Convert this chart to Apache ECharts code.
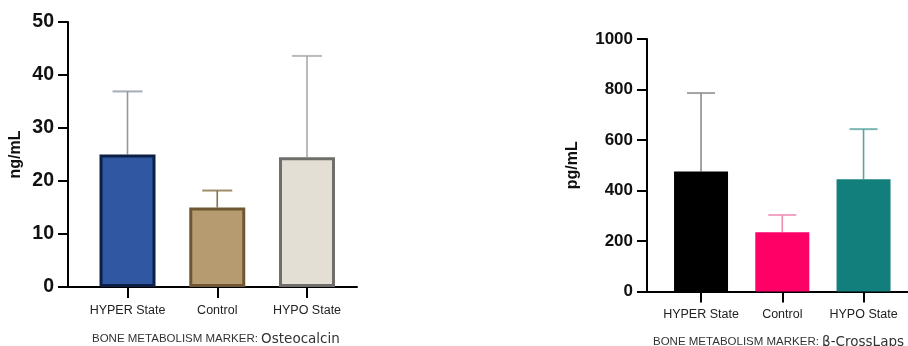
<!DOCTYPE html>
<html>
<head>
<meta charset="utf-8">
<script src="https://cdn.jsdelivr.net/npm/echarts@6/dist/echarts.min.js"></script>
<style>html,body{margin:0;padding:0;background:#fff;}#c{width:908px;height:346px;}</style>
</head>
<body>
<div id="c"></div>
<script>
const categories = ['HYPER State', 'Control', 'HYPO State'];
const osteoMean = [25.0, 15.0, 24.5];
const osteoUpper = [36.9, 18.2, 43.6];
const crossMean = [475, 235, 445];
const crossUpper = [786, 303, 643];
const osteoTitle = 'BONE METABOLISM MARKER: ';
const osteoName = 'Osteocalcin';
const crossName = 'β-CrossLaps';

const osteoFill = ['#2F57A2', '#B59B6F', '#E3DFD5'];
const osteoBorder = ['#0D1F45', '#6E5833', '#6F6E6A'];
const osteoErr = ['#8E98A5', '#8A7048', '#A9A9A9'];
const crossFill = ['#000000', '#FF0066', '#137F7D'];
const crossErr = ['#8C8C8C', '#F08DB5', '#5AA3A2'];

const chart = echarts.init(document.getElementById('c'), null, {renderer: 'canvas'});

function xAxis(gridIndex, min, max) {
  return {
    type: 'value', gridIndex, min, max,
    axisLine: {show: true, onZero: false, lineStyle: {color: '#000', width: 2}},
    axisTick: {show: true, length: 11, lineStyle: {color: '#000', width: 2}, customValues: [0, 1, 2]},
    axisLabel: {
      customValues: [0, 1, 2], margin: 17,
      formatter: v => categories[Math.round(v)],
      fontFamily: 'Liberation Sans, Arial, sans-serif', fontSize: 12.5, color: '#222'
    },
    splitLine: {show: false}
  };
}
function yAxis(gridIndex, max, interval, name, nameGap, fs) {
  return {
    type: 'value', gridIndex, min: 0, max, interval,
    name, nameLocation: 'middle', nameGap,
    nameTextStyle: {fontFamily: 'Liberation Sans, Arial, sans-serif', fontWeight: 'bold', fontSize: 16, color: '#111'},
    axisLine: {show: true, onZero: false, lineStyle: {color: '#000', width: 2}},
    axisTick: {show: true, length: 10, lineStyle: {color: '#000', width: 2}},
    axisLabel: {margin: 14, formatter: v => String(v), fontFamily: 'Liberation Sans, Arial, sans-serif', fontWeight: 'bold', fontSize: fs, color: '#111'},
    splitLine: {show: false}
  };
}
function errSeries(idx, mean, upper, colors, capW) {
  return {
    type: 'custom', xAxisIndex: idx, yAxisIndex: idx, z: 1,
    data: mean.map((m, i) => [i, m, upper[i]]),
    encode: {x: 0, y: [1, 2]},
    renderItem(params, api) {
      const x = api.value(0);
      const p0 = api.coord([x, api.value(1)]);
      const p1 = api.coord([x, api.value(2)]);
      const c = colors[params.dataIndex];
      return {type: 'group', children: [
        {type: 'line', shape: {x1: p0[0], y1: p0[1], x2: p1[0], y2: p1[1]}, style: {stroke: c, lineWidth: 1.6}},
        {type: 'line', shape: {x1: p1[0] - capW / 2, y1: p1[1], x2: p1[0] + capW / 2, y2: p1[1]}, style: {stroke: c, lineWidth: 2, opacity: 0.8}}
      ]};
    }
  };
}
const titleRich = {
  a: {fontFamily: 'Liberation Sans, Arial, sans-serif', fontSize: 11.5, fontWeight: 'normal', color: '#333', lineHeight: 14},
  b: {fontFamily: 'DejaVu Sans, sans-serif', fontSize: 13.5, fontWeight: 'normal', color: '#333', lineHeight: 14}
};

chart.setOption({
  animation: false,
  backgroundColor: '#fff',
  title: [
    {text: '{a|' + osteoTitle + '}{b|' + osteoName + '}', left: 92, top: 332, padding: 0,
     textStyle: {fontWeight: 'normal', rich: titleRich}},
    {text: '{a|' + osteoTitle + '}{b|' + crossName + '}', left: 653, top: 335, padding: 0,
     textStyle: {fontWeight: 'normal', rich: titleRich}}
  ],
  grid: [
    {left: 68, top: 22, width: 289, height: 265, outerBoundsMode: 'none'},
    {left: 647, top: 39, width: 300, height: 252.5, outerBoundsMode: 'none'}
  ],
  xAxis: [xAxis(0, -0.663, 2.557), xAxis(1, -0.665, 3.027)],
  yAxis: [yAxis(0, 50, 10, 'ng/mL', 44, 19.5), yAxis(1, 1000, 200, 'pg/mL', 66, 17)],
  series: [
    errSeries(0, osteoMean, osteoUpper, osteoErr, 30),
    {
      type: 'bar', xAxisIndex: 0, yAxisIndex: 0, barWidth: 56, z: 2,
      data: osteoMean.map((v, i) => ({value: [i, v], itemStyle: {color: osteoFill[i], borderColor: osteoBorder[i], borderWidth: 3}}))
    },
    errSeries(1, crossMean, crossUpper, crossErr, 28),
    {
      type: 'bar', xAxisIndex: 1, yAxisIndex: 1, barWidth: 54, z: 2,
      data: crossMean.map((v, i) => ({value: [i, v], itemStyle: {color: crossFill[i]}}))
    }
  ]
});
</script>
</body>
</html>
